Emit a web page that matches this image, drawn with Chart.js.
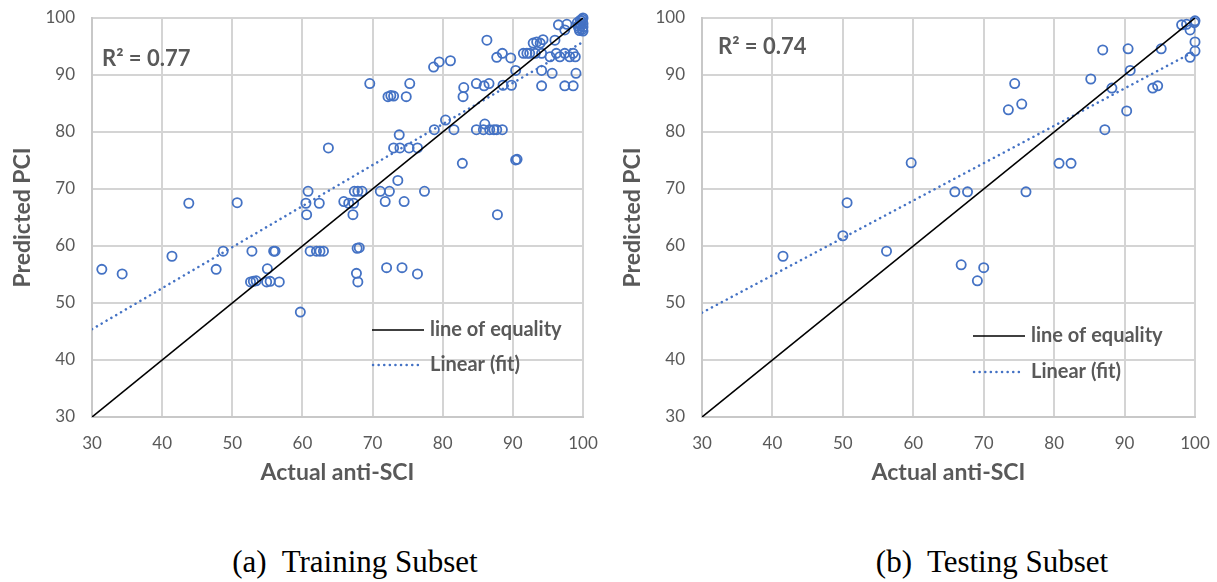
<!DOCTYPE html>
<html>
<head>
<meta charset="utf-8">
<script src="https://cdn.jsdelivr.net/npm/chart.js@4.4.1/dist/chart.umd.min.js"></script>
<style>
  html, body { margin: 0; padding: 0; background: #fff; }
  body { width: 1217px; height: 582px; position: relative; overflow: hidden; }
  .panel { position: absolute; top: 0; }
  .caption {
    position: absolute; top: 544px; width: 400px; text-align: center; white-space: pre;
    font-family: "Liberation Serif", "Times New Roman", serif; font-size: 31px; color: #000;
  }
</style>
</head>
<body>
<canvas id="trainChart" class="panel" width="600" height="490" style="left:0"></canvas>
<canvas id="testChart" class="panel" width="600" height="490" style="left:610px"></canvas>
<div class="caption" style="left:155px">(a)  Training Subset</div>
<div class="caption" style="left:792px">(b)  Testing Subset</div>
<script>
// ------------------------
// DATA
// ------------------------
const axisTicks = [30, 40, 50, 60, 70, 80, 90, 100];
const equalityX = [30, 100];
const equalityY = [30, 100];

const trainActual = [
  31.4, 34.3, 41.4, 43.8, 47.7, 48.7, 50.7, 52.8, 52.6, 53.0, 53.4, 55.0, 54.9, 55.4, 55.9, 56.1, 56.7, 59.7,
  60.5, 60.6, 60.8, 61.1, 62.0, 62.5, 63.0, 62.4, 63.7, 65.9, 66.6, 67.2, 67.3, 67.4, 67.9, 68.5, 67.8, 68.1,
  67.7, 67.9, 69.6, 71.1, 71.8, 72.0, 72.4, 72.2, 72.6, 73.0, 73.0, 73.6, 73.8, 73.9, 74.2, 74.5, 74.8, 75.3,
  75.2, 76.4, 76.4, 77.4, 78.7, 79.5, 81.1, 78.8, 80.4, 81.6, 82.8, 82.9, 83.0, 84.8, 84.8, 85.9, 86.0, 86.3,
  85.8, 86.6, 86.7, 87.3, 87.7, 87.7, 87.8, 88.5, 88.5, 88.6, 89.7, 89.8, 90.4, 90.4, 90.6, 91.5, 92.0, 92.4,
  92.9, 93.2, 93.4, 93.9, 94.3, 94.1, 94.1, 94.1, 95.6, 95.3, 96.2, 96.0, 96.7, 97.4, 98.1, 98.6, 98.9, 97.4,
  98.6, 99.0, 96.5, 97.7, 97.4, 99.4, 99.6, 99.8, 100, 99.9, 99.5, 100, 99.7, 99.2, 99.9, 100, 99.6, 99.3, 100
];
const trainPredicted = [
  55.9, 55.1, 58.2, 67.5, 55.9, 59.1, 67.6, 59.1, 53.7, 53.8, 53.9, 56.0, 53.7, 53.8, 59.1, 59.1, 53.7, 48.4,
  67.5, 65.5, 69.6, 59.1, 59.1, 59.1, 59.1, 67.5, 77.2, 67.8, 67.5, 65.5, 67.5, 69.6, 69.6, 69.6, 59.6, 59.7,
  55.2, 53.7, 88.5, 69.6, 67.8, 56.2, 69.6, 86.2, 86.4, 86.3, 77.2, 71.5, 79.5, 77.2, 56.2, 67.8, 86.2, 88.5,
  77.2, 77.2, 55.1, 69.6, 91.4, 92.3, 92.5, 80.4, 82.1, 80.4, 74.5, 86.2, 87.8, 88.5, 80.4, 88.1, 81.4, 96.1,
  80.4, 88.5, 80.4, 80.4, 80.4, 93.1, 65.5, 93.8, 80.4, 88.2, 93.0, 88.2, 90.8, 75.1, 75.2, 93.8, 93.8, 93.8,
  95.6, 93.8, 95.8, 95.6, 96.2, 93.8, 90.8, 88.1, 90.3, 93.2, 93.8, 96.1, 93.2, 93.8, 93.2, 93.8, 93.2, 88.1,
  88.1, 90.3, 98.8, 98.9, 97.9, 98.2, 99.0, 99.5, 100, 98.0, 97.8, 99.0, 98.6, 99.2, 99.8, 98.4, 99.6, 98.6, 97.7
];
const trainFitX = [30, 100];
const trainFitY = [45.4, 95.8];

const testActual = [
  41.5, 50.0, 50.6, 56.2, 59.7, 65.9, 66.8, 67.7, 69.1, 70.0, 73.5, 74.4, 75.4, 76.0, 80.7, 82.4, 85.2,
  86.9, 87.2, 88.2, 90.3, 90.5, 90.8, 94.0, 94.7, 95.2, 98.1, 98.8, 99.3, 100, 99.9, 100, 100, 99.3
];
const testPredicted = [
  58.2, 61.8, 67.6, 59.1, 74.6, 69.5, 56.7, 69.5, 53.9, 56.2, 83.9, 88.5, 84.9, 69.5, 74.5, 74.5, 89.3,
  94.4, 80.4, 87.7, 83.7, 94.6, 90.8, 87.7, 88.1, 94.6, 98.8, 98.9, 97.9, 99.5, 99.2, 95.8, 94.2, 93.1
];
const testFitX = [30, 100];
const testFitY = [48.3, 94.2];

const BLUE = "#4472C4";
const GRAY = "#595959";

function toPoints(xs, ys) {
  return xs.map((x, i) => ({ x: x, y: ys[i] }));
}

// ------------------------
// R2 LABEL + LEGEND INSIDE PLOT
// ------------------------
const overlayPlugin = {
  id: "overlay",
  afterDraw(chart, args, opts) {
    const { ctx, chartArea: a } = chart;
    const ds = chart.data.datasets;
    ctx.save();
    ctx.fillStyle = GRAY;
    ctx.textBaseline = "middle";
    ctx.font = "bold 22px Lato";
    ctx.fillText(opts.r2Text, a.left + opts.r2Dx, a.top + opts.r2Dy);

    const lx = a.left + opts.legDx;
    const ly = a.top + opts.legDy;
    ctx.strokeStyle = ds[0].borderColor;
    ctx.lineWidth = ds[0].borderWidth;
    ctx.beginPath(); ctx.moveTo(lx, ly); ctx.lineTo(lx + 52, ly); ctx.stroke();

    ctx.strokeStyle = ds[1].borderColor;
    ctx.lineWidth = ds[1].borderWidth;
    ctx.lineCap = "round";
    ctx.setLineDash(ds[1].borderDash);
    ctx.beginPath(); ctx.moveTo(lx + 1, ly + opts.legGap); ctx.lineTo(lx + 50, ly + opts.legGap); ctx.stroke();
    ctx.setLineDash([]);

    ctx.font = "bold 20px Lato";
    ctx.fillText(ds[0].label, lx + 58, ly);
    ctx.fillText(ds[1].label, lx + 58, ly + opts.legGap);
    ctx.restore();
  }
};

function axisOptions(titleText, isX) {
  return {
    type: "linear",
    min: 30,
    max: 100,
    afterBuildTicks: (s) => { s.ticks = axisTicks.map(v => ({ value: v })); },
    afterFit: (s) => {
      if (isX) s.height = 73; else s.width = 92;
      // keep tick-label overflow from shrinking the plot area
      s.paddingLeft = s.paddingRight = s.paddingTop = s.paddingBottom = 0;
    },
    ticks: {
      color: GRAY,
      font: { family: "Lato", size: 17 },
      padding: isX ? 16 : 17
    },
    grid: { color: "#d4d4d4", lineWidth: 2, drawTicks: false },
    border: { color: "#c8c8c8", width: 2 },
    title: {
      display: true,
      text: titleText,
      color: GRAY,
      font: { family: "Lato", size: 23, weight: "bold" },
      padding: isX ? { top: 0, bottom: 4 } : { top: 9, bottom: 0 }
    }
  };
}

function makeChart(canvas, cfg) {
  return new Chart(canvas, {
    type: "scatter",
    data: {
      datasets: [
        {
          label: "line of equality",
          data: toPoints(equalityX, equalityY),
          showLine: true, borderColor: "#000", borderWidth: 1.6, pointRadius: 0, order: 1
        },
        {
          label: "Linear (fit)",
          data: toPoints(cfg.fitX, cfg.fitY),
          showLine: true, borderColor: BLUE, borderWidth: 2.5, borderDash: [0.1, 5.5],
          borderCapStyle: "round", pointRadius: 0, order: 1
        },
        {
          label: "data",
          data: toPoints(cfg.actual, cfg.predicted),
          pointRadius: 4.6, pointBorderWidth: 1.8, pointBorderColor: BLUE,
          pointBackgroundColor: "rgba(0,0,0,0)", order: 2, clip: false
        }
      ]
    },
    options: {
      responsive: false,
      animation: false,
      layout: { padding: { top: 18, right: cfg.padRight, bottom: 0, left: 0 } },
      plugins: {
        legend: { display: false },
        tooltip: { enabled: false },
        overlay: cfg.overlay
      },
      scales: {
        x: axisOptions("Actual anti-SCI", true),
        y: axisOptions("Predicted PCI", false)
      }
    },
    plugins: [overlayPlugin]
  });
}

// ------------------------
// BUILD BOTH PANELS
// ------------------------
makeChart(document.getElementById("trainChart"), {
  actual: trainActual, predicted: trainPredicted,
  fitX: trainFitX, fitY: trainFitY, padRight: 17,
  overlay: { r2Text: "R² = 0.77", r2Dx: 10, r2Dy: 41, legDx: 280, legDy: 312, legGap: 35 }
});

makeChart(document.getElementById("testChart"), {
  actual: testActual, predicted: testPredicted,
  fitX: testFitX, fitY: testFitY, padRight: 15,
  overlay: { r2Text: "R² = 0.74", r2Dx: 16, r2Dy: 29, legDx: 271, legDy: 318, legGap: 36 }
});
</script>
</body>
</html>
